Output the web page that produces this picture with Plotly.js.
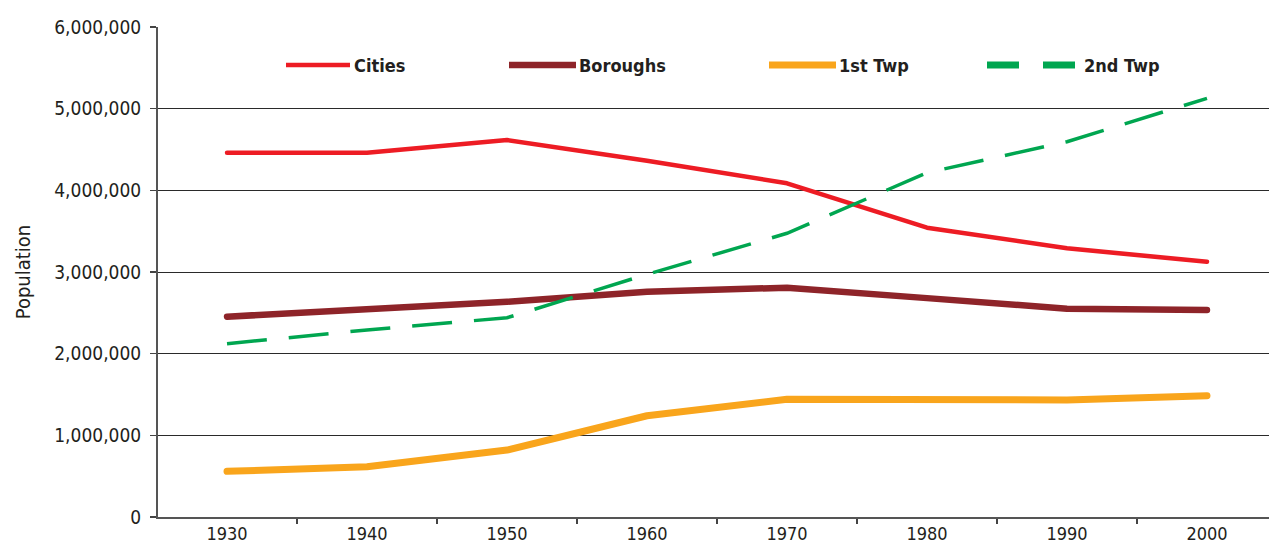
<!DOCTYPE html>
<html>
<head>
<meta charset="utf-8">
<script src="https://cdn.plot.ly/plotly-3.0.1.min.js"></script>
<style>
html,body{margin:0;padding:0;background:#fff;}
#chart{width:1269px;height:543px;}
</style>
</head>
<body>
<div id="chart"></div>
<script>
var years = ["1930","1940","1950","1960","1970","1980","1990","2000"];
var cities   = [4461000, 4461000, 4616000, 4363000, 4086000, 3543000, 3290000, 3126000];
var boroughs = [2453000, 2535000, 2636000, 2759000, 2808000, 2680000, 2551000, 2535000];
var firstTwp = [559000, 616000, 820000, 1240000, 1441000, 1441000, 1433000, 1486000];
var secondTwp= [2122000, 2290000, 2440000, 2971000, 3474000, 4216000, 4595000, 5127000];
var seriesNames = ["Cities","Boroughs","1st Twp","2nd Twp"];
var yTickVals = [0,1000000,2000000,3000000,4000000,5000000,6000000];

var colors = ["#ED1C24","#8E2429","#F9A51C","#00A650"];
var FONT = "DejaVu Sans Condensed, DejaVu Sans, sans-serif";

var traces = [
  {x: years, y: cities, name: seriesNames[0], mode: "lines", line: {color: colors[0], width: 4.5}},
  {x: years, y: boroughs, name: seriesNames[1], mode: "lines", line: {color: colors[1], width: 6.5}},
  {x: years, y: firstTwp, name: seriesNames[2], mode: "lines", line: {color: colors[2], width: 7}},
  {x: years, y: secondTwp, name: seriesNames[3], mode: "lines", line: {color: colors[3], width: 3.5, dash: "40px,22px"}}
];

// custom legend (paper coordinates)
var PL = 158, PW = 1111, PT = 27, PH = 490;
function px(x){ return (x - PL) / PW; }
function py(y){ return (PT + PH - y) / PH; }
var legY = 65;
var legendItems = [
  {segs: [[286, 350]], w: 4.5, tx: 352},
  {segs: [[509, 576]], w: 6.5, tx: 577},
  {segs: [[769, 836]], w: 7, tx: 837},
  {segs: [[987, 1019], [1043, 1075]], w: 7, tx: 1082}
];
var shapes = [], annotations = [];
legendItems.forEach(function(it, i){
  it.segs.forEach(function(s){
    shapes.push({type: "line", xref: "paper", yref: "paper",
      x0: px(s[0]), x1: px(s[1]), y0: py(legY), y1: py(legY),
      line: {color: colors[i], width: it.w}});
  });
  annotations.push({xref: "paper", yref: "paper", x: px(it.tx), y: py(legY),
    xanchor: "left", yanchor: "middle", showarrow: false,
    text: "<b>" + seriesNames[i] + "</b>",
    font: {family: FONT, size: 18, color: "#231F20"}});
});

var layout = {
  width: 1269, height: 543,
  margin: {l: PL, r: 0, t: PT, b: 543 - PT - PH, pad: 0},
  paper_bgcolor: "#fff", plot_bgcolor: "#fff",
  showlegend: false,
  font: {family: FONT, size: 18, color: "#231F20"},
  xaxis: {
    type: "category", range: [-0.493, 7.443], tickson: "boundaries",
    ticks: "outside", ticklen: 5, tickcolor: "#444", tickwidth: 1.3,
    showline: true, linecolor: "#555", linewidth: 1.5,
    showgrid: false, zeroline: false,
    tickfont: {family: FONT, size: 18, color: "#231F20"}
  },
  yaxis: {
    range: [0, 6000000], tickvals: yTickVals, tickformat: ",",
    ticks: "outside", ticklen: 6, tickcolor: "#444", tickwidth: 1.3,
    showline: true, linecolor: "#555", linewidth: 2,
    showgrid: true, gridcolor: "#2a2a2a", gridwidth: 1,
    zeroline: false, ticklabelstandoff: 5,
    tickfont: {family: FONT, size: 19, color: "#231F20"},
    title: {text: "Population", font: {family: FONT, size: 20, color: "#231F20"}, standoff: 18}
  },
  shapes: shapes,
  annotations: annotations
};

Plotly.newPlot("chart", traces, layout, {displayModeBar: false, staticPlot: true}).then(function(){
  var tr = document.querySelectorAll(".scatterlayer .trace");
  tr.forEach(function(t, i){
    if (i < 3) {
      t.querySelectorAll("path.js-line").forEach(function(p){
        p.style.strokeLinecap = "round";
        p.style.strokeLinejoin = "round";
      });
    }
  });
});
</script>
</body>
</html>
